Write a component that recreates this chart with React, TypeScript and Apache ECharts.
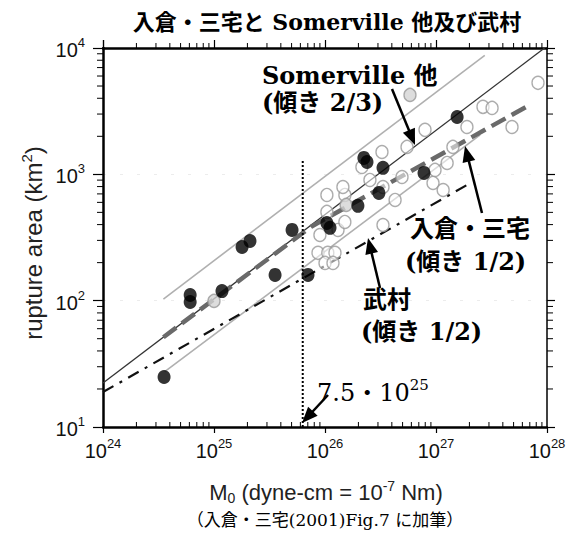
import React, { useEffect, useRef } from "react";
import * as echarts from "echarts";

const titleText = "入倉・三宅と Somerville 他及び武村";
const xMin = 1e24;
const xMax = 1e28;
const yMin = 10;
const yMax = 1e4;

// black filled dots [M0 (dyne-cm), area (km2)]
const filledDots: [number, number][] = [
  [3.55e24, 24.9], [6.1e24, 111], [6.1e24, 97.7], [1.18e25, 119],
  [1.79e25, 266], [2.11e25, 297], [3.55e25, 160], [5.05e25, 363],
  [7.03e25, 160], [1.04e26, 412], [1.11e26, 377], [1.98e26, 563],
  [2.24e26, 1349], [2.39e26, 1253], [3.06e26, 713], [3.33e26, 1125],
  [7.8e26, 1026], [1.55e27, 2845],
];

// open circles
const openDots: [number, number][] = [
  [8.65e25, 239], [1.06e26, 239], [1.23e26, 239], [1.0e26, 199], [1.18e26, 199],
  [9.0e25, 331], [1.31e26, 363], [1.51e26, 420], [1.04e26, 504], [1.04e26, 687],
  [1.51e26, 687], [1.45e26, 794], [2.54e26, 903], [3.33e26, 794], [4.28e26, 627],
  [3.26e26, 1503], [5.48e26, 1648], [7.96e26, 2249], [1.42e27, 1648], [1.9e27, 2371],
  [2.65e27, 3420], [3.2e27, 3357], [4.84e27, 2371], [8.3e27, 5297], [9.4e26, 855],
  [1.16e27, 752], [1.26e27, 1231], [9.8e26, 1084], [2.15e26, 1145], [4.94e26, 953],
  [3.33e26, 397],
];

// light gray filled circles
const grayDots: [number, number][] = [
  [1e25, 99.6], [1.55e26, 573], [5.83e26, 4252],
];

const somervilleLine: [number, number][] = [[1e24, 22.3], [9.5e27, 1e4]];
const upperLine: [number, number][] = [[3.5e24, 103], [2.75e27, 8750]];
const lowerLine: [number, number][] = [[3.6e24, 27.4], [2.5e27, 2050]];
const irikuraLine: [number, number][] = [[3.5e24, 51.4], [7.5e25, 385], [6.8e27, 3500]];
const takemuraLine: [number, number][] = [[1e24, 18.9], [2e27, 845]];
const dottedLine: [number, number][] = [[6.3e25, 10], [6.3e25, 1300]];

const minorSteps = [2, 3, 4, 5, 6, 7, 8, 9];
const xDecades = [1e24, 1e25, 1e26, 1e27];
const yDecades = [1e1, 1e2, 1e3];

const SERIF = '"DejaVu Serif", "Noto Sans CJK JP", serif';
const SANS = '"Liberation Sans", Arial, sans-serif';

function arrow(x1: number, y1: number, x2: number, y2: number) {
  const dx = x2 - x1;
  const dy = y2 - y1;
  const len = Math.sqrt(dx * dx + dy * dy);
  const ux = dx / len;
  const uy = dy / len;
  const hl = 16;
  const hw = 6.5;
  const bx = x2 - ux * hl;
  const by = y2 - uy * hl;
  return [
    {
      type: "line",
      shape: { x1, y1, x2: bx + ux * 2, y2: by + uy * 2 },
      style: { stroke: "#000", lineWidth: 2.5 },
      z: 100,
    },
    {
      type: "polygon",
      shape: {
        points: [
          [x2, y2],
          [bx - uy * hw, by + ux * hw],
          [bx + uy * hw, by - ux * hw],
        ],
      },
      style: { fill: "#000" },
      z: 100,
    },
  ];
}

function annText(text: string, x: number, y: number, extra: any = {}) {
  return {
    type: "text",
    x,
    y,
    z: 100,
    style: {
      text,
      fill: "#000",
      fontFamily: SERIF,
      fontWeight: "bold",
      fontSize: 24,
      align: "left",
      verticalAlign: "middle",
      ...extra,
    },
  };
}

export default function App() {
  const ref = useRef<HTMLDivElement>(null);

  useEffect(() => {
    document.body.style.margin = "0";
    if (!ref.current) return;
    const chart = echarts.init(ref.current, undefined, { renderer: "svg" });

    const xMinor: number[][] = [];
    xDecades.forEach((d) => minorSteps.forEach((m) => xMinor.push([d * m, yMin])));
    const yMinor: number[][] = [];
    yDecades.forEach((d) => minorSteps.forEach((m) => yMinor.push([xMin, d * m])));

    const labelRich = {
      b: { fontSize: 20, fontFamily: SANS, color: "#111", lineHeight: 24, verticalAlign: "bottom" },
      s: { fontSize: 13, fontFamily: SANS, color: "#111", lineHeight: 14, verticalAlign: "top" },
    };
    const fmt = (v: number) => `{b|10}{s|${Math.round(Math.log10(v))}}`;

    const option: any = {
      animation: false,
      backgroundColor: "#fff",
      grid: { left: 103, right: 34, top: 48, bottom: 113 },
      xAxis: [
        {
          type: "log",
          min: xMin,
          max: xMax,
          position: "bottom",
          axisLine: { lineStyle: { color: "#000", width: 2.5 } },
          axisTick: { length: 6, lineStyle: { color: "#000", width: 1.2 } },
          axisLabel: { formatter: fmt, rich: labelRich, margin: 10 },
          splitLine: { show: false },
        },
        {
          type: "log",
          min: xMin,
          max: xMax,
          position: "top",
          axisLine: { lineStyle: { color: "#000", width: 2.5 } },
          axisTick: { length: 8, lineStyle: { color: "#000", width: 1.2 } },
          axisLabel: { show: false },
          splitLine: { show: false },
        },
      ],
      yAxis: [
        {
          type: "log",
          min: yMin,
          max: yMax,
          position: "left",
          axisLine: { lineStyle: { color: "#000", width: 2.5 } },
          axisTick: { length: 10, lineStyle: { color: "#000", width: 1.2 } },
          axisLabel: { formatter: fmt, rich: labelRich, margin: 18 },
          splitLine: { show: true, lineStyle: { color: "#ececec", width: 1, type: [3, 14] } },
        },
        {
          type: "log",
          min: yMin,
          max: yMax,
          position: "right",
          axisLine: { lineStyle: { color: "#000", width: 1.5 } },
          axisTick: { length: 8, lineStyle: { color: "#000", width: 1.2 } },
          axisLabel: { show: false },
          splitLine: { show: false },
        },
      ],
      series: [
        {
          type: "custom",
          coordinateSystem: "cartesian2d",
          clip: false,
          silent: true,
          data: xMinor,
          renderItem: (_p: any, api: any) => {
            const v = api.value(0);
            const b = api.coord([v, yMin]);
            const t = api.coord([v, yMax]);
            return {
              type: "group",
              children: [
                { type: "line", shape: { x1: b[0], y1: b[1], x2: b[0], y2: b[1] - 5 }, style: { stroke: "#000", lineWidth: 1 } },
                { type: "line", shape: { x1: t[0], y1: t[1], x2: t[0], y2: t[1] - 5 }, style: { stroke: "#000", lineWidth: 1 } },
              ],
            };
          },
        },
        {
          type: "custom",
          coordinateSystem: "cartesian2d",
          clip: false,
          silent: true,
          data: yMinor,
          renderItem: (_p: any, api: any) => {
            const v = api.value(1);
            const l = api.coord([xMin, v]);
            const r = api.coord([xMax, v]);
            return {
              type: "group",
              children: [
                { type: "line", shape: { x1: l[0], y1: l[1], x2: l[0] - 6, y2: l[1] }, style: { stroke: "#000", lineWidth: 1 } },
                { type: "line", shape: { x1: r[0], y1: r[1], x2: r[0] + 6, y2: r[1] }, style: { stroke: "#000", lineWidth: 1 } },
              ],
            };
          },
        },
        {
          type: "line",
          data: upperLine,
          symbol: "none",
          lineStyle: { color: "#b0b0b0", width: 1.6 },
          z: 2,
        },
        {
          type: "line",
          data: lowerLine,
          symbol: "none",
          lineStyle: { color: "#b0b0b0", width: 1.6 },
          z: 2,
        },
        {
          type: "line",
          data: somervilleLine,
          symbol: "none",
          lineStyle: { color: "#333", width: 1.3 },
          z: 2,
        },
        {
          type: "line",
          data: takemuraLine,
          symbol: "none",
          lineStyle: { color: "#111", width: 2.2, type: [12, 7, 3, 7] },
          z: 3,
        },
        {
          type: "line",
          data: irikuraLine,
          symbol: "none",
          lineStyle: { color: "#6a6a6a", width: 4.5, type: [16, 7] },
          z: 3,
        },
        {
          type: "line",
          data: dottedLine,
          symbol: "none",
          lineStyle: { color: "#000", width: 2, type: [2, 2] },
          z: 3,
        },
        {
          type: "scatter",
          data: openDots,
          symbol: "circle",
          symbolSize: [12, 13],
          itemStyle: { color: "rgba(255,255,255,0.7)", borderColor: "#999", borderWidth: 1.4 },
          z: 4,
        },
        {
          type: "scatter",
          data: grayDots,
          symbol: "circle",
          symbolSize: [12, 13],
          itemStyle: { color: "#d4d4d4", borderColor: "#999", borderWidth: 1.4 },
          z: 4,
        },
        {
          type: "scatter",
          data: filledDots,
          symbol: "circle",
          symbolSize: [13, 14],
          itemStyle: { color: "#000" },
          z: 5,
        },
      ],
      graphic: [
        annText(titleText, 327, 22, { align: "center", fontSize: 22 }),
        annText("Somerville 他", 262, 75),
        annText("(傾き 2/3)", 262, 102),
        annText("入倉・三宅", 410, 228),
        annText("(傾き 1/2)", 405, 261),
        annText("武村", 363, 299),
        annText("(傾き 1/2)", 361, 331),
        {
          type: "text",
          x: 317,
          y: 391,
          z: 100,
          style: {
            text: "{n|7.5・10}{s|25}",
            align: "left",
            verticalAlign: "middle",
            rich: {
              n: { fontSize: 24, fontFamily: SERIF, fill: "#000", lineHeight: 28, verticalAlign: "bottom" },
              s: { fontSize: 15, fontFamily: SERIF, fill: "#000", lineHeight: 16, verticalAlign: "top" },
            },
          },
        },
        {
          type: "text",
          x: 326,
          y: 492,
          z: 100,
          style: {
            text: "{n|M}{d|0}{n| (dyne-cm = 10}{u|-7}{n| Nm)}",
            align: "center",
            verticalAlign: "middle",
            rich: {
              n: { fontSize: 22, fontFamily: SANS, fill: "#222", lineHeight: 26, verticalAlign: "middle" },
              d: { fontSize: 14, fontFamily: SANS, fill: "#222", lineHeight: 14, verticalAlign: "bottom" },
              u: { fontSize: 14, fontFamily: SANS, fill: "#222", lineHeight: 14, verticalAlign: "top" },
            },
          },
        },
        {
          type: "text",
          x: 325,
          y: 520,
          z: 100,
          style: {
            text: "（入倉・三宅(2001)Fig.7 に加筆）",
            fill: "#000",
            fontFamily: SERIF,
            fontSize: 17,
            align: "center",
            verticalAlign: "middle",
          },
        },
        {
          type: "text",
          x: 33,
          y: 243,
          rotation: Math.PI / 2,
          z: 100,
          style: {
            text: "{n|rupture area (km}{u|2}{n|)}",
            align: "center",
            verticalAlign: "middle",
            rich: {
              n: { fontSize: 24, fontFamily: SANS, fill: "#222", lineHeight: 28, verticalAlign: "middle" },
              u: { fontSize: 15, fontFamily: SANS, fill: "#222", lineHeight: 15, verticalAlign: "top" },
            },
          },
        },
        ...arrow(392, 89, 415, 145),
        ...arrow(482, 213, 465, 146),
        ...arrow(380, 288, 368, 238),
        ...arrow(328, 395, 302, 423),
      ],
    };

    chart.setOption(option);
    return () => chart.dispose();
  }, []);

  return <div ref={ref} style={{ width: 581, height: 540 }} />;
}
